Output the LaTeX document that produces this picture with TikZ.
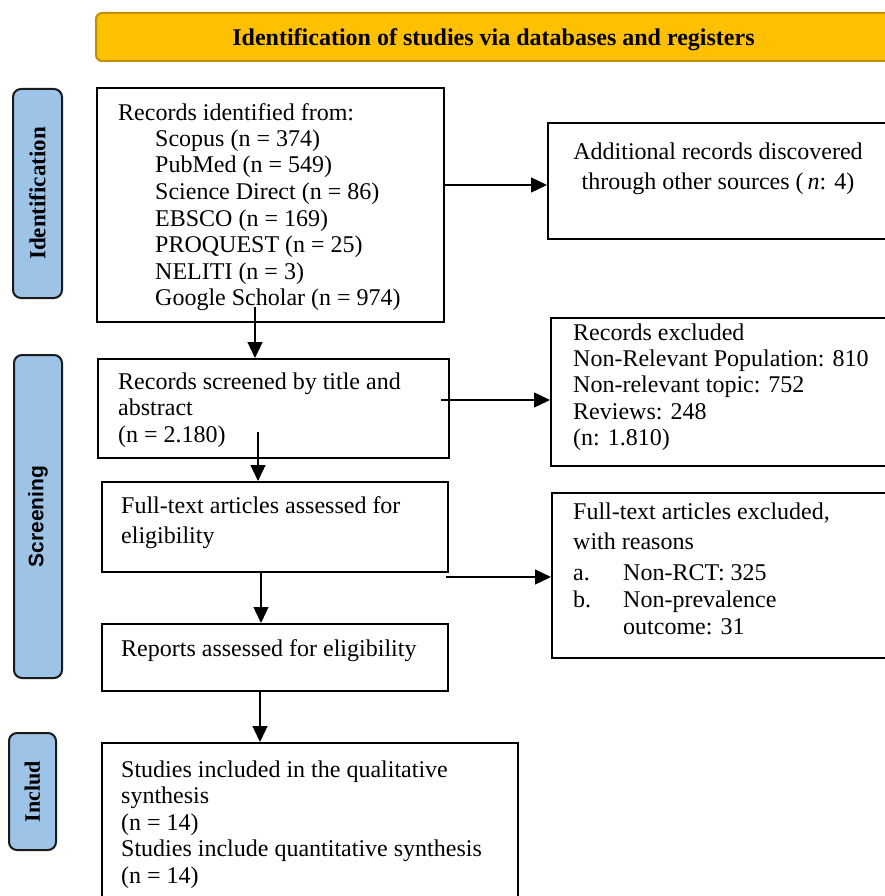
\documentclass[tikz,border=0pt]{standalone}
\usepackage{fontspec}
\setmainfont{Liberation Serif}
\newfontfamily\lsans{Liberation Sans}
\usetikzlibrary{arrows.meta}
\definecolor{hdrfill}{HTML}{FFC000}
\definecolor{hdrdraw}{HTML}{BF9000}
\definecolor{sidefill}{HTML}{9DC3E6}
\definecolor{sidedraw}{HTML}{1A1A1A}
\begin{document}
\begin{tikzpicture}[x=1pt,y=-1pt,
  box/.style={draw, line width=2pt, inner sep=0pt, anchor=north west},
  side/.style={draw=sidedraw, fill=sidefill, line width=2pt, rounded corners=8pt, inner sep=0pt, anchor=north west},
  sidetxt/.style={rotate=90, font=\fontsize{23}{26}\selectfont\bfseries},
  txt/.style={inner sep=0pt, align=left, anchor=north west, yshift=-2.5pt},
  arr/.style={line width=1.3pt, -{Triangle[length=16pt,width=15pt]}},
]
\clip (0,0) rectangle (885,896);
\fill[white] (0,0) rectangle (885,896);
% header
\node[draw=hdrdraw, fill=hdrfill, line width=2pt, rounded corners=6pt, anchor=north west,
      minimum width=795pt, minimum height=48pt, inner sep=0pt] (hdr) at (95,12) {};
\node[font=\fontsize{24}{26}\selectfont\bfseries, inner sep=0pt, yshift=-3pt] (hdrt) at (hdr.center)
      {Identification of studies via databases and registers};
% side labels
\node[side, minimum width=49pt, minimum height=209pt] (sid) at (12,88) {};
\node[sidetxt] (sidt) at (sid.center) {Identification};
\node[side, minimum width=48pt, minimum height=323pt] (sscr) at (13,354) {};
\node[sidetxt, font=\fontsize{21}{24}\selectfont\lsans\bfseries] (sscrt) at (sscr.center) {Screening};
\node[side, minimum width=47pt, minimum height=117pt] (sinc) at (8,732) {};
\node[sidetxt, font=\fontsize{22}{24}\selectfont\bfseries] (sinct) at (sinc.center) {Includ};
% boxes
\node[box, minimum width=347pt, minimum height=234pt] (b1) at (96,87) {};
\node[box, minimum width=345pt, minimum height=116pt] (b2) at (547,122) {};
\node[box, minimum width=351pt, minimum height=99pt] (b3) at (97,358) {};
\node[box, minimum width=340pt, minimum height=148pt] (e1) at (550,317) {};
\node[box, minimum width=346pt, minimum height=90pt] (b4) at (101,481) {};
\node[box, minimum width=340pt, minimum height=165pt] (e2) at (551,492) {};
\node[box, minimum width=346pt, minimum height=67pt] (b5) at (101,623) {};
\node[box, minimum width=416pt, minimum height=170pt] (b6) at (101,742) {};
% texts
\node[txt, font=\fontsize{24}{26}\selectfont] (b1h) at (118,101) {Records identified from:};
\node[txt, font=\fontsize{24}{26.6}\selectfont] (b1l) at (155,127)
  {Scopus (n = 374)\\PubMed (n = 549)\\Science Direct (n = 86)\\EBSCO (n = 169)\\PROQUEST (n = 25)\\NELITI (n = 3)\\Google Scholar (n = 974)};
\node[inner sep=0pt, align=center, anchor=north, yshift=-2.5pt, font=\fontsize{24}{30}\selectfont] (b2t) at (718,140)
  {Additional records discovered\\through other sources (\,\textit{n}: 4)};
\node[txt, font=\fontsize{24}{26.5}\selectfont] (b3t) at (118,370)
  {Records screened by title and\\abstract\\(n = 2.180)};
\node[txt, font=\fontsize{24}{26.3}\selectfont] (e1t) at (573,321)
  {Records excluded\\Non-Relevant Population: 810\\Non-relevant topic: 752\\Reviews: 248\\(n: 1.810)};
\node[txt, font=\fontsize{24}{30}\selectfont] (b4t) at (121,494)
  {Full-text articles assessed for\\eligibility};
\node[txt, font=\fontsize{24}{30}\selectfont] (e2t) at (573,500)
  {Full-text articles excluded,\\with reasons};
\node[txt, font=\fontsize{24}{27}\selectfont] (e2l) at (573,562)
  {\makebox[50pt][l]{a.}Non-RCT: 325\\\makebox[50pt][l]{b.}Non-prevalence\\\hspace*{50pt}outcome: 31};
\node[txt, font=\fontsize{24}{26}\selectfont] (b5t) at (121,637)
  {Reports assessed for eligibility};
\node[txt, font=\fontsize{24}{26.5}\selectfont] (b6t) at (121,758)
  {Studies included in the qualitative\\synthesis\\(n = 14)\\Studies include quantitative synthesis\\(n = 14)};
% connector start points
\coordinate (s12) at (443,185);
\coordinate (s13) at (255,307);
\coordinate (s3e) at (441,400);
\coordinate (s34) at (258,432);
\coordinate (s4e) at (446,577);
\coordinate (s45) at (261,572);
\coordinate (s56) at (260,692);
% connectors
\draw[arr] (s12) -- (s12 -| b2.west);
\draw[arr] (s13) -- (s13 |- b3.north);
\draw[arr] (s3e) -- (s3e -| e1.west);
\draw[arr] (s34) -- (s34 |- b4.north);
\draw[arr] (s4e) -- (s4e -| e2.west);
\draw[arr] (s45) -- (s45 |- b5.north);
\draw[arr] (s56) -- (s56 |- b6.north);
\end{tikzpicture}
\end{document}
